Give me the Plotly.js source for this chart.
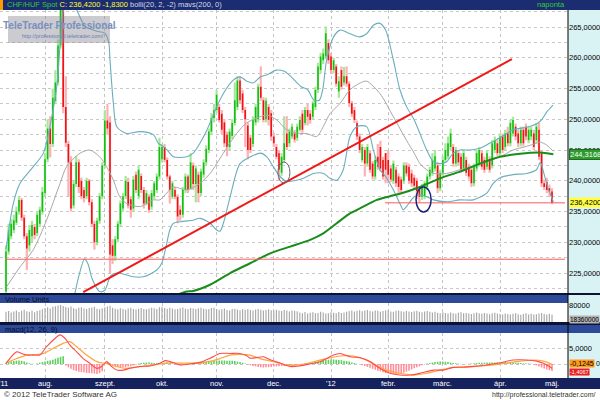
<!DOCTYPE html>
<html><head><meta charset="utf-8">
<script src="https://cdn.plot.ly/plotly-3.0.1.min.js"></script>
<style>html,body{margin:0;padding:0;background:#fff}#chart{width:600px;height:400px}</style>
</head><body><div id="chart"></div>
<script>
// ---- daily OHLC (CHF/HUF Spot), index 0 = mid-July 2011 ----
const openP = [222.0,228.5,231.0,232.0,233.2,235.0,236.9,234.0,231.0,229.5,231.0,232.5,231.5,233.0,235.0,238.0,243.5,248.5,246.0,253.0,256.0,262.0,268.5,252.0,246.0,243.0,236.0,239.5,243.0,240.0,238.5,237.5,240.0,236.5,233.0,230.0,233.5,237.5,242.5,249.8,249.5,229.5,227.8,230.5,233.0,235.5,237.5,239.8,237.0,235.5,241.0,237.5,240.8,238.5,236.3,237.4,235.8,237.5,238.5,240.7,243.5,245.5,243.4,240.7,237.4,238.5,237.4,235.3,234.5,238.5,240.7,238.8,242.5,239.5,241.0,238.0,241.0,243.0,245.0,248.0,250.2,251.5,252.0,250.9,249.5,247.5,245.5,247.3,249.4,252.0,256.3,254.2,251.5,249.0,247.0,246.0,249.5,250.0,255.3,253.1,250.0,252.0,251.0,247.2,245.5,244.5,241.3,243.4,247.7,246.1,247.2,247.7,247.0,248.3,250.9,249.4,251.5,250.9,250.4,252.0,254.8,258.0,259.6,260.2,262.4,260.2,258.0,258.6,254.5,258.0,256.0,257.0,255.8,252.6,251.5,249.4,247.2,243.4,245.0,242.8,244.5,242.8,240.7,243.9,245.5,243.4,244.5,243.4,242.0,240.0,241.8,240.7,240.2,240.0,242.5,242.3,241.2,240.5,240.0,238.5,237.4,237.5,239.0,240.7,241.3,242.0,242.5,238.8,241.3,243.4,244.0,245.5,245.5,242.8,244.5,243.9,242.0,243.4,242.3,241.8,239.6,242.0,242.8,244.5,243.4,242.3,243.4,242.5,245.0,246.1,244.5,247.2,245.5,247.7,246.1,247.7,248.8,247.7,246.1,248.3,248.8,246.6,247.2,247.7,246.6,248.3,244.5,239.6,239.8,238.8,238.25];
const highP = [229.5,233.0,233.8,234.5,235.8,237.5,237.2,234.5,231.5,232.8,233.5,233.0,235.0,235.8,239.0,244.5,250.0,250.5,255.0,258.0,263.0,270.0,271.0,257.0,246.5,244.0,240.0,244.0,243.5,240.5,239.0,240.5,240.3,237.0,233.5,234.0,238.0,243.0,251.5,252.5,250.5,230.5,231.0,233.5,236.8,238.0,240.8,240.5,237.5,240.8,241.5,242.5,241.2,239.0,238.5,237.8,238.5,240.0,241.2,247.0,246.0,246.0,243.8,241.0,240.0,239.0,237.8,236.0,239.0,241.2,241.0,244.5,243.0,242.5,241.5,242.0,243.5,245.8,248.5,251.0,252.5,254.8,252.5,251.5,250.0,248.0,248.5,250.0,256.0,257.0,257.0,254.8,252.0,249.5,247.5,250.5,252.5,255.8,258.6,253.6,253.5,252.5,251.5,247.8,246.0,245.0,244.5,250.5,250.5,248.5,249.3,248.3,249.3,250.5,251.5,252.0,252.5,251.5,253.0,255.3,259.2,260.8,261.5,265.1,263.0,260.8,260.0,259.0,257.0,258.6,258.5,258.6,256.2,253.0,252.0,249.8,247.7,246.0,245.5,246.0,245.0,243.2,244.0,246.0,246.5,243.9,244.5,245.0,242.5,243.3,242.3,241.2,240.7,243.0,243.0,242.8,241.8,241.0,240.5,239.0,239.5,240.0,241.2,242.3,244.5,245.0,243.0,241.8,244.0,246.1,247.2,248.5,246.0,245.5,245.0,244.5,245.0,243.9,242.8,242.3,242.8,245.0,245.5,245.0,243.9,245.0,244.0,246.6,247.2,246.6,247.7,247.7,248.3,248.8,249.9,250.4,249.3,248.3,248.8,248.8,249.3,248.8,248.8,248.3,249.4,249.4,245.0,240.2,240.5,239.4,238.8];
const lowP = [221.5,228.0,230.5,231.5,232.8,234.5,233.5,230.5,225.5,228.5,230.0,230.5,231.0,232.5,234.5,237.5,243.0,243.8,245.5,252.5,255.5,261.5,251.0,245.5,237.5,235.0,235.5,239.0,238.0,237.0,236.5,237.0,236.0,232.5,228.8,229.5,233.0,237.0,242.0,247.5,225.0,226.5,227.0,230.0,232.5,235.0,237.0,235.5,234.0,235.0,238.0,237.0,238.0,235.5,236.0,234.8,235.3,237.0,238.0,240.2,243.0,243.0,240.2,236.3,237.0,237.0,233.1,233.5,234.0,238.0,238.0,238.5,238.5,236.5,236.5,237.5,240.5,242.5,244.5,247.5,249.5,251.0,249.5,247.5,245.5,244.0,245.0,246.8,249.0,251.5,252.5,251.0,245.5,243.5,244.5,245.5,249.0,249.5,253.0,249.5,249.5,249.0,246.5,245.5,243.5,240.0,240.8,243.0,245.0,245.5,246.8,246.2,246.5,248.0,247.8,249.0,249.0,249.3,250.0,251.5,254.3,257.5,259.0,259.8,259.0,257.5,257.5,255.3,253.5,254.8,255.5,255.3,252.0,250.4,249.4,246.6,244.5,243.0,240.7,242.3,241.3,240.2,240.2,241.8,241.5,240.2,239.6,239.6,239.8,239.5,239.0,238.0,238.0,239.5,240.7,239.5,239.0,238.5,237.0,236.5,236.9,237.0,238.5,240.2,240.8,241.5,238.0,238.3,240.8,243.0,243.5,245.0,242.3,242.3,242.5,241.3,241.5,240.8,240.2,239.0,239.1,241.5,242.3,241.8,241.3,241.8,241.3,242.0,244.5,244.0,244.0,244.5,245.0,245.6,245.6,247.2,246.6,245.5,245.6,245.6,246.6,246.1,246.6,245.0,246.1,243.4,239.0,238.5,238.0,237.4,236.2];
const closeP = [228.5,232.0,233.0,233.6,235.0,236.9,234.0,231.0,229.0,232.0,232.8,231.2,234.5,235.3,238.2,243.5,248.5,246.0,253.5,256.0,262.0,268.5,252.0,246.2,243.0,235.5,239.5,243.0,239.0,237.5,237.2,240.0,236.5,233.0,230.0,233.5,237.5,242.5,249.8,248.5,228.0,227.8,230.5,233.0,236.3,237.5,240.0,236.0,235.3,240.2,238.5,241.8,238.5,236.3,238.0,235.3,238.0,239.6,240.7,245.5,245.5,243.4,240.7,238.5,239.6,237.4,234.2,234.5,238.5,240.7,238.5,243.0,239.5,242.0,238.0,241.5,243.0,245.2,248.0,250.2,251.5,254.0,249.9,248.3,246.1,245.5,248.0,249.4,253.1,256.3,253.1,251.5,250.0,245.0,245.0,249.9,252.0,255.3,253.5,249.9,253.0,249.9,247.2,246.1,243.9,241.8,243.9,246.1,245.5,248.0,248.8,246.7,248.8,249.9,248.3,251.5,250.4,249.9,252.6,254.8,258.6,260.2,260.7,264.0,259.6,258.0,259.6,255.8,256.2,255.3,257.0,255.8,252.6,250.9,249.9,247.2,245.0,245.5,242.8,245.5,241.8,240.7,243.4,242.3,242.0,240.7,241.8,241.0,240.2,242.8,239.6,239.0,238.5,242.5,241.2,240.0,239.6,239.2,238.3,237.4,239.0,239.6,240.7,241.8,243.4,244.0,238.8,241.3,243.4,245.0,246.1,247.7,242.8,245.0,243.0,241.8,244.5,241.3,240.7,239.6,242.3,244.5,245.0,242.3,241.8,244.5,241.8,246.1,246.6,244.5,247.2,245.0,247.7,246.1,249.4,249.9,247.2,246.1,248.3,246.1,247.2,248.3,248.3,245.5,248.8,243.9,239.6,239.0,238.5,238.25,236.42];
const volume = [48000,52000,45000,50000,55000,47000,53000,58000,51000,49000,54000,46000,52000,56000,60000,
66000,70000,64000,72000,75000,78000,80000,76000,71000,68000,73000,65000,62000,67000,70000,64000,61000,66000,69000,72000,63000,60000,65000,70000,74000,77000,
68000,63000,60000,65000,62000,58000,64000,67000,61000,59000,63000,66000,62000,60000,64000,68000,65000,61000,70000,72000,66000,63000,67000,64000,60000,62000,65000,69000,63000,61000,66000,64000,62000,65000,67000,63000,60000,62000,66000,68000,
62000,58000,60000,64000,57000,55000,61000,63000,59000,56000,60000,58000,62000,57000,55000,59000,61000,58000,54000,57000,60000,56000,53000,58000,55000,52000,57000,54000,50000,55000,53000,51000,
45000,42000,47000,40000,44000,46000,41000,43000,48000,45000,40000,42000,46000,44000,41000,47000,43000,45000,48000,
52000,55000,50000,53000,56000,51000,54000,57000,52000,50000,55000,53000,49000,52000,56000,54000,50000,48000,53000,55000,51000,49000,52000,50000,47000,51000,53000,49000,46000,50000,52000,48000,45000,49000,
44000,41000,46000,43000,40000,45000,42000,39000,44000,46000,41000,43000,40000,38000,42000,45000,41000,39000,43000,40000,37000,41000,44000,40000,38000,
36000,40000,38000,35000,39000,42000,37000,34000,38000,41000,36000,39000,35000,37000,40000,43000,38000,36000,39000,34000];
const macdHist = [0.4,0.6,0.75,0.9,1.05,1.1,1.0,0.75,
0.45,0.2,0.1,0.0,0.15,
0.4,0.6,0.75,1.0,1.1,1.35,1.65,1.95,2.25,2.4,
-0.45,-1.05,-1.5,-1.95,-2.2,-2.4,-2.55,-2.6,-2.8,-2.85,-2.9,-3.0,-3.1,-2.85,-2.25,
0.3,0.45,0.2,
-0.3,-0.7,-0.9,-1.05,-1.05,-1.0,-0.8,-0.7,-0.45,-0.2,
0.15,0.3,0.4,0.45,0.45,0.4,0.3,0.2,
0.1,0.2,0.4,0.45,0.3,0.1,-0.15,-0.3,-0.4,-0.2,-0.1,0.1,
0.2,0.4,0.45,0.6,0.7,0.75,0.8,0.9,1.0,1.05,1.1,1.1,1.1,
1.1,1.05,1.05,1.0,0.9,0.75,0.6,0.4,0.15,
-0.15,-0.4,-0.6,-0.75,-0.9,-1.05,-1.1,
-1.05,-1.0,-0.9,-0.8,-0.75,-0.7,-0.6,-0.6,-0.5,-0.45,-0.4,-0.3,-0.2,
-0.1,0.1,0.2,0.3,0.4,0.5,
0.7,0.8,1.0,1.1,1.25,1.35,1.4,1.4,1.35,1.25,1.2,1.05,
0.9,0.75,0.5,0.3,0.1,-0.15,-0.4,-0.6,
-0.9,-1.2,-1.5,-1.8,-2.1,-2.3,-2.55,-2.8,-2.9,-3.05,-3.15,-3.15,-3.05,
-2.9,-2.7,-2.4,-2.1,-1.7,-1.35,-1.0,-0.7,-0.4,-0.15,
0.15,0.3,0.45,0.6,0.7,0.75,0.75,0.7,0.6,0.45,0.3,0.2,0.1,
-0.1,-0.15,-0.1,0.1,0.15,0.2,0.3,0.4,
0.4,0.4,0.45,0.45,0.45,0.5,0.5,0.5,0.6,0.6,0.5,0.5,0.45,0.4,0.4,0.3,0.2,0.2,0.15,0.1,
-0.2,-0.5,-0.8,-1.1,-1.4,-1.7,-1.95,-2.2];

const bbUpperX = [0,2.8,5.4,10.5,14.4,16.9,19.5,21.4,23.5,27,30.4,33,35,38,39.5,40,41.3,42.6,46.4,51.5,56.7,58.6,60.5,62,64.4,69.5,72,74.6,77,81,83.6,87.5,90,92.6,95,97.9,100.3,104,107,109.7,113.5,116,118.5,120.5,121.8,123.3,126,128.5,132.3,136,138.7,141.3,143.8,146,149,151.5,154,157,159.2,161.8,164.4,166.9,169.5,172,174.6,178,182.3,186,190,195,199,202,204.6,206,208,210.4];
const bbUpperY = [228.8,236.3,239.6,242.3,244.5,248.8,255.3,265.1,271,268,265.1,264.6,264.3,264.0,262.5,259.6,252.6,248.8,247.7,248.0,247.5,246.1,245.6,245.0,243.9,243.9,244.5,246.1,248.0,252.0,254.2,256.4,256.9,256.2,255.9,256.9,257.2,258.0,257.8,256.9,255.3,254.8,253.1,253.1,254.8,259.6,263.4,264.5,263.9,263.4,263.9,265.3,265.6,264.5,259.6,254.8,252.1,249.9,247.7,245.0,243.1,242.8,243.1,244.5,245.0,245.0,245.3,246.1,247.0,248.3,248.6,248.9,249.4,249.9,251.2,252.3];
const bbMidX = [0.3,5.4,10.5,15.6,20.8,23.3,28.5,32.3,36,38.7,41.3,43.8,46.4,51.5,54,56.7,59.2,61.8,64.4,69.5,74.6,78.5,83.6,88.7,92.5,96.4,100.3,104.1,108,113.1,115.6,119.5,122,124.6,128.5,132.3,136.2,138.7,143.8,149,154,157,159.2,161.8,164.4,169.5,174.6,179.7,184.9,190,195,200.2,204,205.4,208,210.5];
const bbMidY = [222.8,226.0,228.8,233.6,239.6,242.3,244.5,245.0,243.9,242.3,240.1,237.4,236.3,235.8,236.3,236.9,236.9,238.0,239.0,238.5,239.6,241.2,244.5,247.7,249.4,250.2,250.7,249.9,248.3,247.7,247.7,247.2,248.8,250.9,252.6,254.8,255.9,256.2,254.2,250.4,246.6,244.5,242.8,241.8,241.2,241.2,241.8,242.3,243.1,243.9,245.0,245.6,246.1,246.3,245.8,244.8];
const bbLowerX = [24,26.5,28,30.2,31.5,33.2,36,38,40.3,42.6,46.4,49,52.8,58,59.9,61.8,63,64.4,68,72,74.6,78.5,81,82.3,83.6,86.2,90,94,97.9,100.3,102.8,105.4,108,111.8,114.4,118.3,122.2,124.6,127.2,129.7,132.3,134.9,138.7,141.3,143.8,146,149,151.5,152.8,154,157,159.2,161.8,164.4,169.5,174.6,179.7,184.9,187.4,190,195,200.2,204,205.5,207,208.5,210.5];
const bbLowerY = [217.5,221.7,224.5,227.3,226.5,224.0,222.0,222.2,224.6,225.0,224.7,224.4,224.4,225.5,226.6,229.8,232.0,233.1,233.4,233.6,233.9,233.1,232.0,231.8,233.1,237.4,242.8,243.9,244.5,243.9,242.3,240.7,239.9,240.1,240.4,241.2,241.2,240.4,240.1,241.8,247.2,248.8,248.8,245.0,241.8,240.7,238.5,236.3,235.3,235.8,237.4,237.7,237.4,236.9,236.6,236.9,236.9,238.0,239.6,240.5,241.0,241.2,241.8,243.0,241.0,238.8,236.6];
const ma200X = [66,69.5,72,78.5,86.2,93.9,101.6,109.3,117,122.2,127.2,132.3,137.4,142.6,147.7,151.5,159.2,166.9,174.6,182.3,190,197.7,205.4,210.5];
const ma200Y = [221.5,222.0,222.1,223.1,225.0,226.6,228.2,229.3,230.4,231.5,233.1,234.7,235.8,236.9,237.5,237.9,239.0,240.4,241.5,242.8,243.9,244.4,244.6,244.32];
const macdX = [0,2,4.1,6,8,10.5,13,15.6,18.2,20.8,22.7,24.6,27.2,29.7,32.3,34.9,36.8,38.7,40.6,42.6,45.1,47.7,51.5,55.4,59.2,61.2,63.1,67,70.8,74.6,78.5,82.3,86.2,90,92.6,93.9,96.4,99,101.6,105.4,109.3,113,116.8,120.8,125.9,128.5,132.3,136.2,140,143.8,147.7,151.5,155.4,159.2,164.4,168.2,172,175.9,179.7,184.9,190,195.1,200.3,204.1,206.7,210];
const macdY = [0.2,2.25,3.8,3.3,2.8,2.85,2.85,5.4,7.5,9.1,8.0,5.9,3.8,1.7,0.2,-1.35,-0.8,0.75,-0.8,-1.9,-1.9,-1.35,-0.8,-0.6,0.2,1.05,0.75,-0.3,0.0,0.5,1.8,3.3,3.3,3.3,2.55,1.8,2.0,2.25,1.3,0.3,-0.8,-0.6,0.0,0.7,2.8,3.3,2.25,1.95,0.75,-1.35,-2.9,-3.45,-3.45,-2.9,-1.9,-1.9,-1.05,-1.0,-0.75,-0.3,0.4,1.25,1.25,0.9,0.2,-1.3];
const signalX = [0,4.1,8,10.5,14.4,18.2,22,24.6,27.2,31,34.9,38.7,42.6,46.4,51.5,56.7,61.8,67,74.6,78.5,82.3,86.2,90,93.9,97.7,102.8,108,113.1,118.3,123.3,128.5,133.6,136.2,138.7,141.3,146.4,151.5,156.7,161.8,166.9,172,179.7,187.4,195.1,202.8,206.7,210];
const signalY = [0.3,1.7,2.8,2.8,3.3,4.9,6.45,7.0,5.4,2.8,0.75,0.1,-0.8,-1.35,-0.8,-0.3,0.3,0.3,0.3,0.8,1.7,2.8,3.0,2.8,1.7,0.7,-0.3,-0.3,0.7,1.7,2.5,2.5,1.95,1.2,0.0,-1.9,-2.9,-3.45,-2.9,-1.9,-1.05,-0.8,-0.3,0.6,1.25,0.9,-0.12];
// drawn objects
const trendX = [29.7,194.6], trendY = [221.9,259.8];
const supportX = [145.8,215], supportY = [236.42,236.42];
const lowLineX = [-0.4,215], lowLineY = [227.25,227.25];
// axis labels
const priceTicks = [225,230,235,240,245,250,255,260,265];
const priceText = ["225,0000","230,0000","235,0000","240,0000","245,0000","250,0000","255,0000","260,0000","265,0000"];
const monthIdx = [15,38,60,81,103,125,147,168,190];
const labelIdx = [-0.8,15,38,60,81,103,125,147,168,190,210];
const labelText = ["'11","aug.","szept.","okt.","nov.","dec.","'12","febr.","márc.","ápr.","máj."];

const idx = closeP.map((_, i) => i);
const up = closeP.map((c, i) => c >= openP[i]);
const FONT = 'Liberation Sans, Arial, sans-serif';
const X = p => p / 600, Y = p => 1 - p / 400;
const XR = [-2.3077, 216.15];

const traces = [
  {type:'bar', x:idx, base:lowP, y:highP.map((h,i)=>h-lowP[i]), width:0.85,
   marker:{color:up.map(u=>u?'#a6e89a':'#ffb0b4'), line:{width:0}}, xaxis:'x', yaxis:'y', hoverinfo:'skip'},
  {type:'bar', x:idx, base:openP.map((o,i)=>Math.min(o,closeP[i])),
   y:openP.map((o,i)=>Math.max(Math.abs(closeP[i]-o),0.15)), width:0.6,
   marker:{color:up.map(u=>u?'#10c010':'#f01010'), line:{width:0}}, xaxis:'x', yaxis:'y', hoverinfo:'skip'},
  {type:'scatter', mode:'lines', x:bbMidX, y:bbMidY, line:{color:'#a8a8a8', width:1, shape:'spline', smoothing:0.8}, xaxis:'x', yaxis:'y'},
  {type:'scatter', mode:'lines', x:bbUpperX, y:bbUpperY, line:{color:'#6aaebd', width:1.1, shape:'spline', smoothing:0.8}, xaxis:'x', yaxis:'y'},
  {type:'scatter', mode:'lines', x:bbLowerX, y:bbLowerY, line:{color:'#6aaebd', width:1.1, shape:'spline', smoothing:0.8}, xaxis:'x', yaxis:'y'},
  {type:'scatter', mode:'lines', x:ma200X, y:ma200Y, line:{color:'#1a8c1a', width:2, shape:'spline', smoothing:0.6}, xaxis:'x', yaxis:'y'},
  {type:'scatter', mode:'lines', x:lowLineX, y:lowLineY, line:{color:'#ff5a5a', width:1}, xaxis:'x', yaxis:'y'},
  {type:'scatter', mode:'lines', x:supportX, y:supportY, line:{color:'#ff5a5a', width:1}, xaxis:'x', yaxis:'y'},
  {type:'scatter', mode:'lines', x:trendX, y:trendY, line:{color:'#f01818', width:2}, xaxis:'x', yaxis:'y'},
  {type:'bar', x:idx, y:volume, width:0.45, marker:{color:'#a9a9a9', line:{width:0}}, xaxis:'x2', yaxis:'y2'},
  {type:'bar', x:idx, y:macdHist, width:0.6, marker:{color:macdHist.map(v=>v>=0?'#5ccf5c':'#ff8c98'), line:{width:0}}, xaxis:'x3', yaxis:'y3'},
  {type:'scatter', mode:'lines', x:signalX, y:signalY, line:{color:'#ffa53a', width:1.2, shape:'spline', smoothing:0.8}, xaxis:'x3', yaxis:'y3'},
  {type:'scatter', mode:'lines', x:macdX, y:macdY, line:{color:'#ff4a4a', width:1.1, shape:'spline', smoothing:0.8}, xaxis:'x3', yaxis:'y3'}
];

const xbase = {range:XR, tickvals:monthIdx, showticklabels:false, showgrid:true, gridcolor:'#c4c4c4', griddash:'dot', gridwidth:1, zeroline:false, showline:false, ticks:'', fixedrange:true};
const tf = {size:7.5, color:'#000', family:FONT};

const rect = (x0,y0,x1,y1,fill,layer) => ({type:'rect', xref:'paper', yref:'paper', x0:X(x0), x1:X(x1), y0:Y(y1), y1:Y(y0), fillcolor:fill, line:{width:0}, layer:layer||'below'});

const shapes = [
  rect(0,0,600,10,'#1b2c70'),
  rect(0,0,3,10,'#ff9a00'),
  rect(568,10,600,378,'#d9f3f5'),
  rect(0,293,600,295,'#0d1433'),
  rect(0,295,568,303,'#2d4a98'),
  rect(0,322,600,325,'#0d1433'),
  rect(0,325,600,333,'#2d4a98'),
  rect(0,378,600,389,'#16225e'),
  {type:'line', xref:'paper', yref:'paper', x0:X(568), x1:X(568), y0:Y(378), y1:Y(10), line:{color:'#000', width:1}, layer:'above'},
  rect(8,16,110,43,'rgba(140,140,150,0.45)','above'),
  {type:'circle', xref:'x', yref:'y', x0:104.6, x1:109.2, y0:239.64, y1:243.06, line:{color:'#666666', width:1}, layer:'above'},
  {type:'circle', xref:'x', yref:'y', x0:157.7, x1:163.5, y0:234.93, y1:239.0, line:{color:'#1a237e', width:1.5}, layer:'above'}
];

const ann = [
  {xref:'paper', yref:'paper', x:X(5), y:Y(5), xanchor:'left', yanchor:'middle', showarrow:false,
   text:'<span style="color:#33cc33">CHF/HUF Spot</span> <span style="color:#ffff33">C: 236,4200 -1,8300</span> <span style="color:#d8d8e8">bolli(20, 2, -2) mavs(200, 0)</span>',
   font:{size:7.5, family:FONT}},
  {xref:'paper', yref:'paper', x:X(567), y:Y(5), xanchor:'right', yanchor:'middle', showarrow:false, text:'naponta', font:{size:7.5, family:FONT, color:'#33cc33'}},
  {xref:'paper', yref:'paper', x:X(3), y:Y(299), xanchor:'left', yanchor:'middle', showarrow:false, text:'Volume Units', font:{size:7.5, family:FONT, color:'#0a0a28'}},
  {xref:'paper', yref:'paper', x:X(3), y:Y(329), xanchor:'left', yanchor:'middle', showarrow:false, text:'macd(12, 26, 9)', font:{size:7.5, family:FONT, color:'#0a0a28'}},
  {xref:'paper', yref:'paper', x:X(59), y:Y(25), xanchor:'center', yanchor:'middle', showarrow:false, text:'<b>TeleTrader Professional</b>', font:{size:10, family:FONT, color:'#7a90c0'}},
  {xref:'paper', yref:'paper', x:X(63), y:Y(35.5), xanchor:'center', yanchor:'middle', showarrow:false, text:'http://professional.teletrader.com/', font:{size:5.5, family:FONT, color:'#6a80b0'}},
  {xref:'paper', yref:'y', x:X(569), y:244.3168, xanchor:'left', yanchor:'middle', showarrow:false, text:'244,3168', bgcolor:'#2f9a2f', bordercolor:'#1d6d1d', borderwidth:1, borderpad:0, font:{size:7.5, family:FONT, color:'#f4fff0'}},
  {xref:'paper', yref:'y', x:X(569), y:236.42, xanchor:'left', yanchor:'middle', showarrow:false, text:'236,4200', bgcolor:'#ffff40', borderpad:0, font:{size:7.5, family:FONT, color:'#000'}},
  {xref:'paper', yref:'paper', x:X(569), y:Y(319), xanchor:'left', yanchor:'middle', showarrow:false, text:'18360000', bgcolor:'#b4b4b4', borderpad:0, font:{size:6.5, family:FONT, color:'#000'}},
  {xref:'paper', yref:'y3', x:X(569), y:0.1, xanchor:'left', yanchor:'middle', showarrow:false, text:'-0,1245', bgcolor:'#ff9a1a', borderpad:0, font:{size:7, family:FONT, color:'#000'}},
  {xref:'paper', yref:'y3', x:X(597.5), y:0.1, xanchor:'center', yanchor:'middle', showarrow:false, text:'0', font:{size:7, family:FONT, color:'#000'}},
  {xref:'paper', yref:'y3', x:X(569), y:-2.35, xanchor:'left', yanchor:'middle', showarrow:false, text:'-1,4067', bgcolor:'#ee1c1c', borderpad:0, font:{size:5.5, family:FONT, color:'#fff'}},
  {xref:'paper', yref:'paper', x:X(2), y:Y(394.5), xanchor:'left', yanchor:'middle', showarrow:false, text:'© 2012 TeleTrader Software AG', font:{size:8, family:FONT, color:'#333'}},
  {xref:'paper', yref:'paper', x:X(598), y:Y(395), xanchor:'right', yanchor:'middle', showarrow:false, text:'http://professional.teletrader.com/', font:{size:7, family:FONT, color:'#333'}}
];
labelIdx.forEach((v, k) => ann.push({xref:'x', yref:'paper', x:v, y:Y(383.5), xanchor:'center', yanchor:'middle', showarrow:false, text:labelText[k], font:{size:7.5, family:FONT, color:'#ffffff'}}));

const layout = {
  width:600, height:400, margin:{l:0, r:0, t:0, b:0}, paper_bgcolor:'#ffffff', plot_bgcolor:'#ffffff',
  showlegend:false, barmode:'overlay', hovermode:false,
  xaxis: Object.assign({}, xbase, {domain:[0, X(568)], anchor:'y'}),
  xaxis2: Object.assign({}, xbase, {domain:[0, X(568)], anchor:'y2'}),
  xaxis3: Object.assign({}, xbase, {domain:[0, X(568)], anchor:'y3'}),
  yaxis: {domain:[Y(293), Y(10)], range:[221.76, 267.77], side:'right', anchor:'x', tickvals:priceTicks, ticktext:priceText, tickfont:tf, ticks:'', showgrid:true, gridcolor:'#c8c8c8', griddash:'dot', zeroline:false, showline:false, fixedrange:true,
          minor:{tickmode:'linear', tick0:0, dtick:2.5, showgrid:true, gridcolor:'#c8c8c8', griddash:'dot', ticks:''}},
  yaxis2: {domain:[Y(322), Y(303)], range:[0, 90000], side:'right', anchor:'x2', tickvals:[80000], ticktext:['80000'], tickfont:tf, ticks:'', showgrid:false, zeroline:false, fixedrange:true},
  yaxis3: {domain:[Y(378), Y(333)], range:[-4.375, 9.6875], side:'right', anchor:'x3', tickvals:[0,5], ticktext:['','5,0000'], tickfont:tf, ticks:'', showgrid:true, gridcolor:'#c8c8c8', griddash:'dot', zeroline:false, fixedrange:true},
  shapes: shapes, annotations: ann
};
Plotly.newPlot('chart', traces, layout, {staticPlot:true, displayModeBar:false});
</script></body></html>
